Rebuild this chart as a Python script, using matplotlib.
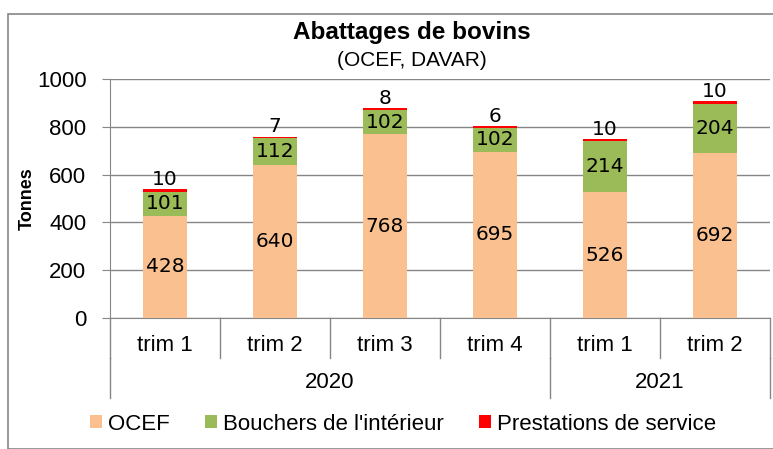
import matplotlib
matplotlib.use("Agg")
import matplotlib.pyplot as plt
from matplotlib.patches import Rectangle
import numpy as np

# Data
quarters = ["trim 1", "trim 2", "trim 3", "trim 4", "trim 1", "trim 2"]
years = ["2020", "2021"]
year_spans = [(0, 4), (4, 6)]  # index ranges of quarters per year
ocef = [428, 640, 768, 695, 526, 692]
bouchers = [101, 112, 102, 102, 214, 204]
prestations = [10, 7, 8, 6, 10, 10]

series_names = ["OCEF", "Bouchers de l'intérieur", "Prestations de service"]
colors = ["#FAC090", "#9BBB59", "#FF0000"]

plt.rcParams["font.family"] = ["Liberation Sans", "DejaVu Sans"]

W, H = 773, 449
fig = plt.figure(figsize=(W / 100, H / 100), dpi=100)

# outer chart border (the right side runs past the image edge)
fig.patches.append(Rectangle((8 / W, 0), 800 / W, (H - 14) / H, transform=fig.transFigure,
                             fill=False, edgecolor="#868686", linewidth=1.2))

ax = fig.add_axes([110 / W, (H - 318) / H, 660 / W, 239 / H])

x = np.arange(len(quarters))
width = 0.4
b1 = ax.bar(x, ocef, width, color=colors[0], label=series_names[0], zorder=3)
b2 = ax.bar(x, bouchers, width, bottom=ocef, color=colors[1], label=series_names[1], zorder=3)
bottom2 = np.array(ocef) + np.array(bouchers)
b3 = ax.bar(x, prestations, width, bottom=bottom2, color=colors[2], label=series_names[2], zorder=3)

num_font = dict(family="DejaVu Sans", fontsize=14.5, color="black")
for i in x:
    ax.text(i, ocef[i] / 2, str(ocef[i]), ha="center", va="center", zorder=4, **num_font)
    ax.text(i, ocef[i] + bouchers[i] / 2, str(bouchers[i]), ha="center", va="center", zorder=4, **num_font)
    ax.text(i, bottom2[i] + prestations[i] + 1, str(prestations[i]), ha="center", va="bottom",
            zorder=4, **num_font)

ax.set_xlim(-0.5, len(quarters) - 0.5)
ax.set_ylim(0, 1000)
ax.set_yticks(range(0, 1001, 200))
ax.tick_params(axis="y", labelsize=16, length=6, color="#868686", pad=11)
ax.set_xticks([])
ax.grid(axis="y", color="#868686", linewidth=1, zorder=0)
for s in ["top", "right"]:
    ax.spines[s].set_visible(False)
for s in ["left", "bottom"]:
    ax.spines[s].set_color("#868686")

ax.set_ylabel("Tonnes", fontsize=13, fontweight="bold")
ax.yaxis.set_label_coords(-0.113, 0.5)

# multi-level category axis
trans = ax.get_xaxis_transform()
line_kw = dict(color="#868686", linewidth=1, transform=trans, clip_on=False)
for b in np.arange(-0.5, len(quarters), 1.0):
    ax.plot([b, b], [0, -0.167], **line_kw)
for i, q in enumerate(quarters):
    ax.text(i, -0.113, q, ha="center", va="center", fontsize=16, transform=trans)
bounds = [-0.5] + [e - 0.5 for _, e in year_spans]
for b in bounds:
    ax.plot([b, b], [-0.167, -0.335], **line_kw)
for yr, (s, e) in zip(years, year_spans):
    ax.text((s + e - 1) / 2, -0.268, yr, ha="center", va="center", fontsize=16, transform=trans)

fig.text(412 / W, (H - 32) / H, "Abattages de bovins", ha="center", va="center",
         fontsize=17.5, fontweight="bold")
fig.text(412 / W, (H - 60) / H, "(OCEF, DAVAR)", ha="center", va="center", fontsize=15)

fig.legend(handles=[b1, b2, b3], loc="center", bbox_to_anchor=(403 / W, (H - 424) / H),
           ncol=3, frameon=False, fontsize=16, handlelength=0.55, handleheight=0.55,
           handletextpad=0.25, columnspacing=1.6)

fig.savefig("out.png", dpi=100)
